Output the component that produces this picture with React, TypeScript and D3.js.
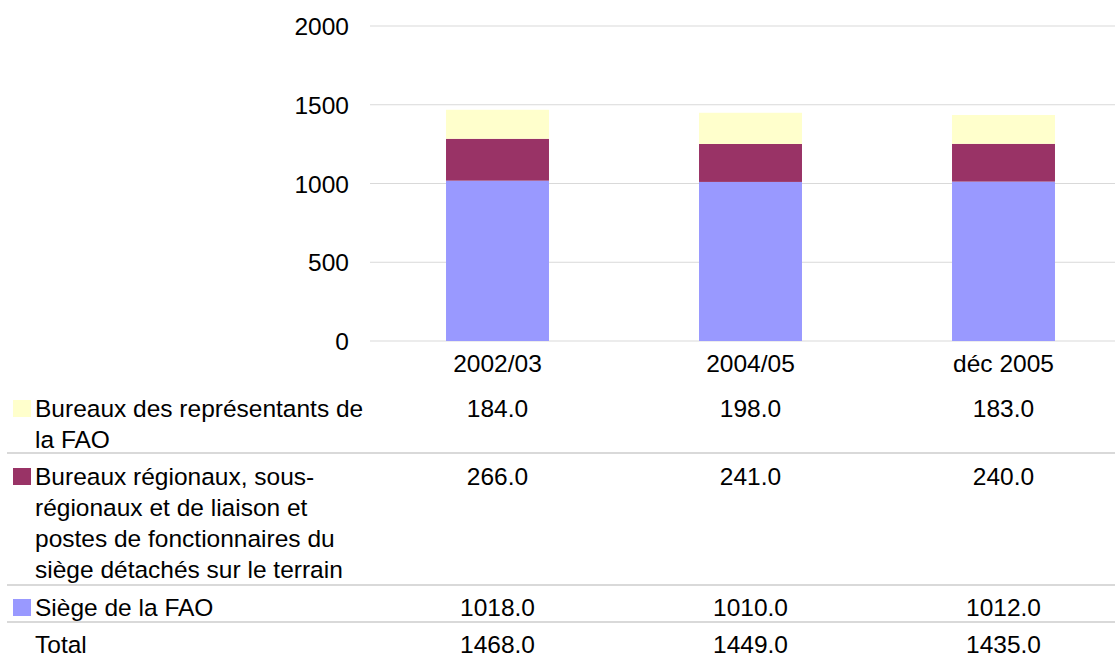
import React from "react";
import * as d3 from "d3";

const categories = ["2002/03", "2004/05", "déc 2005"];
const siege = [1018, 1010, 1012];
const regionaux = [266, 241, 240];
const representants = [184, 198, 183];
const totals = [1468, 1449, 1435];
const yTicks = [0, 500, 1000, 1500, 2000];

const seriesNames = [
  ["Bureaux des représentants de", "la FAO"],
  ["Bureaux régionaux, sous-", "régionaux et de liaison et", "postes de fonctionnaires du", "siège détachés sur le terrain"],
  ["Siège de la FAO"],
];
const seriesColors = ["#FFFFCC", "#993366", "#9999FF"];
const seriesValues = [representants, regionaux, siege];

const W = 1115;
const H = 659;
const FONT = "'Liberation Sans', Arial, sans-serif";
const FS = 24.5;

export default function App() {
  const y = d3.scaleLinear().domain([0, 2000]).range([341, 26]);
  const x = d3
    .scaleBand<string>()
    .domain(categories)
    .range([371, 1130])
    .paddingInner(0.593)
    .paddingOuter(0.2965);

  const stackData = categories.map((c, i) => ({
    cat: c,
    siege: siege[i],
    regionaux: regionaux[i],
    representants: representants[i],
  }));
  const stack = d3.stack<any>().keys(["siege", "regionaux", "representants"]);
  const layers = stack(stackData);
  const layerColors: Record<string, string> = {
    siege: "#9999FF",
    regionaux: "#993366",
    representants: "#FFFFCC",
  };

  const gridColor = "#d9d9d9";
  const lineColor = "#cccccc";

  const rowBaselines = [417, 485, 616];
  const rowLines = [453, 585, 622];
  const lineGap = 31;

  return (
    <svg
      width={W}
      height={H}
      style={{ position: "absolute", left: 0, top: 0, display: "block", background: "#fff" }}
      fontFamily={FONT}
      fontSize={FS}
    >
      <rect x={0} y={0} width={W} height={H} fill="#fff" />
      {yTicks.map((t) => (
        <g key={t}>
          <line x1={370} x2={W} y1={y(t)} y2={y(t)} stroke={gridColor} strokeWidth={1} />
          <text x={349} y={y(t) + 9} textAnchor="end" fill="#000">
            {t}
          </text>
        </g>
      ))}
      {layers.map((layer) => (
        <g key={layer.key} fill={layerColors[layer.key]}>
          {layer.map((d, i) => (
            <rect
              key={i}
              x={x(categories[i])!}
              width={x.bandwidth()}
              y={y(d[1])}
              height={y(d[0]) - y(d[1])}
            />
          ))}
        </g>
      ))}
      {categories.map((c) => (
        <text key={c} x={x(c)! + x.bandwidth() / 2} y={372} textAnchor="middle" fill="#000">
          {c}
        </text>
      ))}
      {seriesNames.map((lines, si) => (
        <g key={si}>
          <rect x={13} y={rowBaselines[si] - 17} width={18} height={17} fill={seriesColors[si]} />
          {lines.map((ln, li) => (
            <text key={li} x={35} y={rowBaselines[si] + li * lineGap} fill="#000">
              {ln}
            </text>
          ))}
          {seriesValues[si].map((v, i) => (
            <text
              key={i}
              x={x(categories[i])! + x.bandwidth() / 2}
              y={rowBaselines[si]}
              textAnchor="middle"
              fill="#000"
            >
              {v.toFixed(1)}
            </text>
          ))}
        </g>
      ))}
      <text x={35} y={653} fill="#000">
        Total
      </text>
      {totals.map((v, i) => (
        <text key={i} x={x(categories[i])! + x.bandwidth() / 2} y={653} textAnchor="middle" fill="#000">
          {v.toFixed(1)}
        </text>
      ))}
      {rowLines.map((ly) => (
        <line key={ly} x1={7} x2={W} y1={ly} y2={ly} stroke={lineColor} strokeWidth={1.5} />
      ))}
    </svg>
  );
}
